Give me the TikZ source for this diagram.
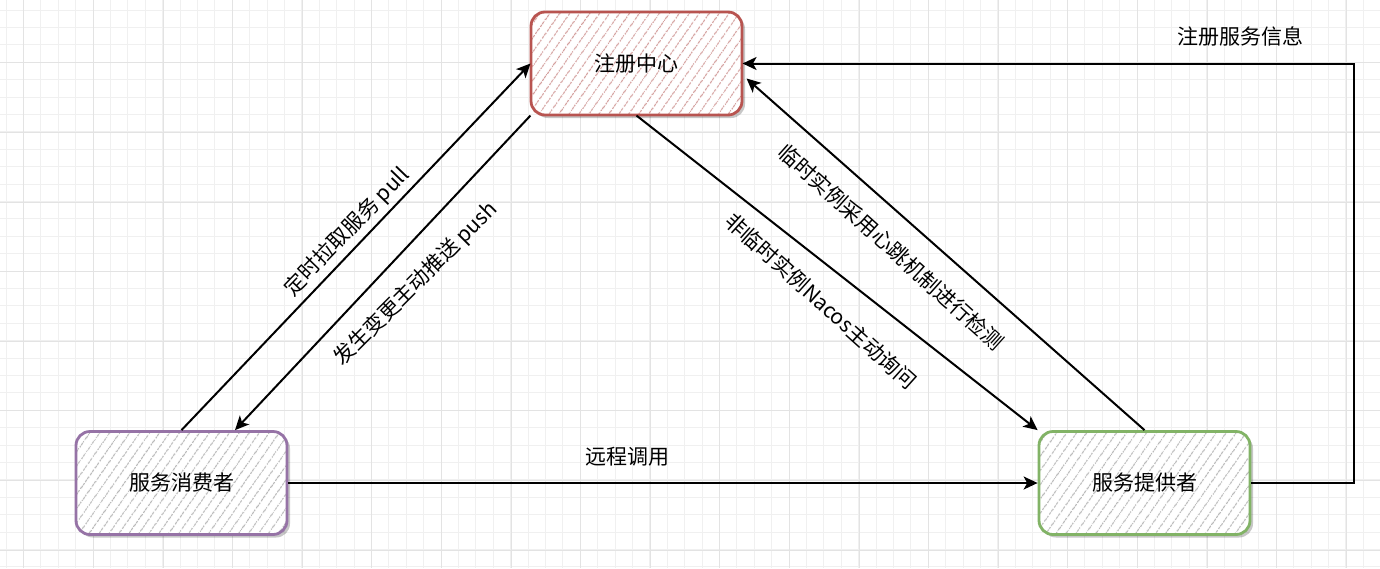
\documentclass[tikz,border=0pt]{standalone}
\usepackage{fontspec}
\setmainfont{Noto Sans CJK SC}
\usetikzlibrary{arrows.meta,patterns.meta,shadows,calc}
\definecolor{regred}{HTML}{B85450}
\definecolor{conspurple}{HTML}{9673A6}
\definecolor{provgreen}{HTML}{82B366}
\definecolor{reghatch}{HTML}{D4A09E}
\begin{document}
\begin{tikzpicture}[x=0.5pt,y=-0.5pt,
  gridminor/.style={draw=black!6,line width=0.4pt},
  gridmajor/.style={draw=black!11,line width=0.4pt},
  box/.style={rounded corners=7pt, minimum width=105.5pt, minimum height=51.5pt,
    line width=1.4pt, inner sep=0pt, font=\fontsize{10.5}{12}\selectfont,
    drop shadow={shadow xshift=1.5pt, shadow yshift=-1.5pt, fill=black, opacity=0.22},
    preaction={fill=white},
    pattern={Lines[angle=55,distance=4pt,line width=0.55pt]}},
  arr/.style={line width=1pt, -{Stealth[length=7pt,width=6.5pt,inset=1.8pt]}},
  lbl/.style={font=\fontsize{10.5}{12}\selectfont, inner sep=1pt}]
\useasboundingbox (0,0) rectangle (1380,568);
\fill[white] (0,0) rectangle (1380,568);
\foreach \i in {0,...,78} \draw[gridminor] ({5.9+17.4*\i},0) -- ({5.9+17.4*\i},568);
\foreach \j in {0,...,32} \draw[gridminor] (0,{10+17.4*\j}) -- (1380,{10+17.4*\j});
\foreach \i in {0,...,19} \draw[gridmajor] ({23.7+69.6*\i},0) -- ({23.7+69.6*\i},568);
\foreach \j in {0,...,7} \draw[gridmajor] (0,{62.7+69.6*\j}) -- (1380,{62.7+69.6*\j});

\node[box, draw=regred, pattern color=reghatch] (reg) at (636.5,63.5) {注册中心};
\node[box, draw=conspurple, pattern color=gray!55] (cons) at (181.5,483) {服务消费者};
\node[box, draw=provgreen, pattern color=gray!55] (prov) at (1144.5,483) {服务提供者};

\draw[arr] (cons.north) -- (reg.west);
\draw[arr] (reg.south west) -- ($(cons.north)+(53.5,0)$);
\draw[arr] (reg.south) -- (prov.north west);
\draw[arr] (prov.north) -- ($(reg.east)+(4,15)$);
\draw[arr] (prov.east) -- ++(103,0) |- (reg.east);
\draw[arr] (cons.east) -- (prov.west);

\node[lbl, rotate=46] (lpull) at (347,232) {定时拉取服务 pull};
\node[lbl, rotate=45] (lpush) at (416,284) {发生变更主动推送 push};
\node[lbl, rotate=-42] (lnon) at (821,301) {非临时实例Nacos主动询问};
\node[lbl, rotate=-42] (ltmp) at (891,247) {临时实例采用心跳机制进行检测};
\node[lbl] (lreg) at (1240,36) {注册服务信息};
\node[lbl] (lrpc) at (627,457) {远程调用};
\end{tikzpicture}
\end{document}
